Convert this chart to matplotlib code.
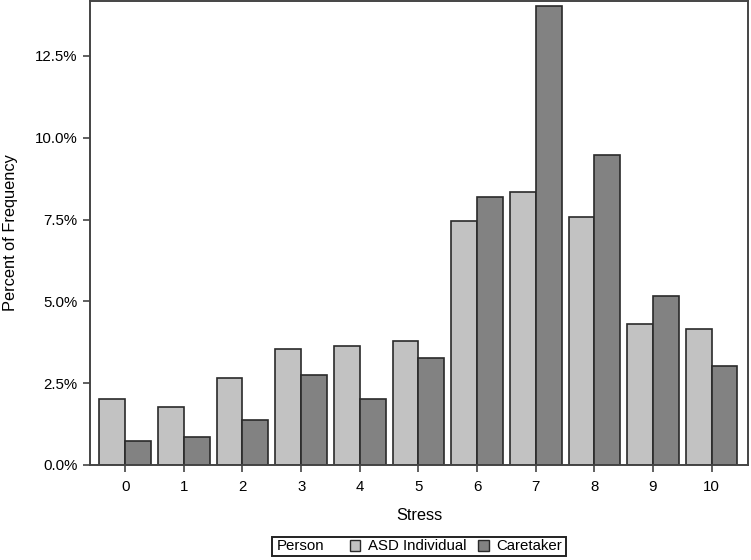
import matplotlib
matplotlib.use("Agg")
import matplotlib.pyplot as plt
import numpy as np
from matplotlib.patches import Rectangle, Patch
from matplotlib.ticker import FuncFormatter

plt.rcParams['font.family'] = ['Liberation Sans', 'DejaVu Sans']

stress = [0, 1, 2, 3, 4, 5, 6, 7, 8, 9, 10]
asd = [2.02, 1.76, 2.65, 3.54, 3.65, 3.78, 7.46, 8.33, 7.57, 4.30, 4.16]
caretaker = [0.74, 0.87, 1.38, 2.76, 2.02, 3.27, 8.19, 14.02, 9.47, 5.17, 3.02]
series_names = ["ASD Individual", "Caretaker"]
yticks = [0, 2.5, 5.0, 7.5, 10.0, 12.5]

W, H = 751, 560
fig = plt.figure(figsize=(W / 100, H / 100), dpi=100)
ax = fig.add_axes([90 / W, (H - 465) / H, (748 - 90) / W, (465 - 1) / H])

x = np.array(stress, dtype=float)
bw = 0.44
c_asd = "#c2c2c2"
c_care = "#828282"
edge = "#2a2a2a"
ax.bar(x - bw / 2, asd, width=bw, color=c_asd, edgecolor=edge, linewidth=1.2)
ax.bar(x + bw / 2, caretaker, width=bw, color=c_care, edgecolor=edge, linewidth=1.2)

ax.set_xlim(-0.6, 10.62)
ax.set_ylim(0, 14.18)
ax.set_xticks(stress)
ax.set_yticks(yticks)
ax.yaxis.set_major_formatter(FuncFormatter(lambda v, p: f"{v:.1f}%"))
ax.tick_params(axis='both', labelsize=10.8, color="#444444", length=5, width=1.2, direction='out')
ax.tick_params(axis='x', pad=6)
ax.tick_params(axis='y', pad=4)
for s in ax.spines.values():
    s.set_color("#444444")
    s.set_linewidth(1.4)

ax.set_xlabel("Stress", fontsize=11.8, labelpad=10)
ax.set_ylabel("Percent of Frequency", fontsize=11.8, labelpad=12)

# Legend: frame + "Person" label + two entries
lx0, lx1, ly0, ly1 = 272, 566, 537, 556
fig.patches.append(Rectangle((lx0 / W, (H - ly1) / H), (lx1 - lx0) / W, (ly1 - ly0) / H,
                             transform=fig.transFigure, fill=False, edgecolor="#222222",
                             linewidth=1.4))
fig.text(277 / W, (H - 546.5) / H, "Person", fontsize=10.8, ha='left', va='center')
handles = [Patch(facecolor=c_asd, edgecolor=edge, linewidth=1.0),
           Patch(facecolor=c_care, edgecolor=edge, linewidth=1.0)]
fig.legend(handles, series_names, ncol=2, frameon=False, fontsize=10.8,
           loc='center', bbox_to_anchor=(456 / W, (H - 546.5) / H),
           handlelength=0.7, handleheight=0.7, handletextpad=0.5, columnspacing=0.8,
           borderpad=0, borderaxespad=0)

fig.savefig("out.png", dpi=100)
